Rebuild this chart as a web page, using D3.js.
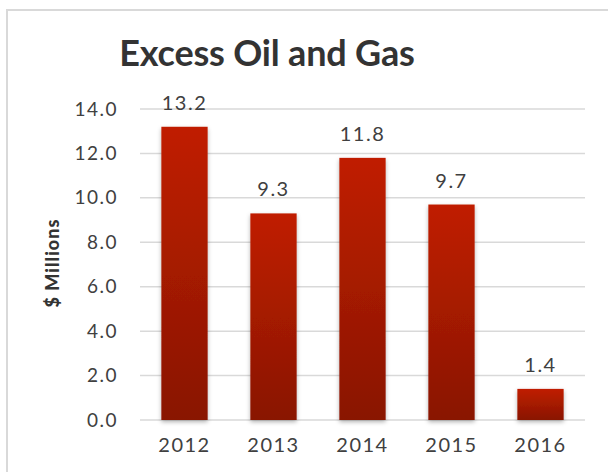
<!DOCTYPE html>
<html>
<head>
<meta charset="utf-8">
<script src="https://cdn.jsdelivr.net/npm/d3@7"></script>
<style>
  body { margin: 0; background: #fff; }
  text { font-family: "Lato", "DejaVu Sans", sans-serif; fill: #404040; }
</style>
</head>
<body>
<div id="chart"></div>
<script>
// chart data
const years = ['2012', '2013', '2014', '2015', '2016'];
const values = [13.2, 9.3, 11.8, 9.7, 1.4];
const yTicks = [0, 2, 4, 6, 8, 10, 12, 14];

const width = 608, height = 472;
const margin = {top: 109, right: 23, bottom: 52, left: 140};
const innerW = width - margin.left - margin.right;
const innerH = height - margin.top - margin.bottom;

const svg = d3.select('#chart').append('svg')
  .attr('width', width)
  .attr('height', height);

const defs = svg.append('defs');
const grad = defs.append('linearGradient')
  .attr('id', 'bar-gradient')
  .attr('x1', 0).attr('y1', 0).attr('x2', 0).attr('y2', 1);
grad.append('stop').attr('offset', '0%').attr('stop-color', '#c01f00');
grad.append('stop').attr('offset', '100%').attr('stop-color', '#891500');

const shadow = defs.append('filter').attr('id', 'shadow')
  .attr('x', '-20%').attr('y', '-10%').attr('width', '140%').attr('height', '130%');
shadow.append('feDropShadow')
  .attr('dx', 0).attr('dy', 2).attr('stdDeviation', 2)
  .attr('flood-color', '#000').attr('flood-opacity', 0.3);

// outer frame
svg.append('rect')
  .attr('x', 7).attr('y', 10)
  .attr('width', width + 10).attr('height', height + 10)
  .attr('fill', 'none')
  .attr('stroke', '#d9d9d9')
  .attr('stroke-width', 2);

// title
svg.append('text')
  .attr('x', 267).attr('y', 66)
  .attr('text-anchor', 'middle')
  .style('font-size', '36px')
  .style('font-weight', 'bold')
  .style('letter-spacing', '-0.2px')
  .style('fill', '#333')
  .text('Excess Oil and Gas');

const chart = svg.append('g')
  .attr('transform', `translate(${margin.left},${margin.top})`);

const x = d3.scaleBand()
  .domain(years)
  .range([0, innerW])
  .paddingInner(0.48)
  .paddingOuter(0.24);

const y = d3.scaleLinear()
  .domain([0, 14])
  .range([innerH, 0]);

// gridlines
chart.selectAll('.grid')
  .data(yTicks)
  .join('line')
  .attr('class', 'grid')
  .attr('x1', 0).attr('x2', innerW)
  .attr('y1', d => y(d)).attr('y2', d => y(d))
  .attr('stroke', '#d9d9d9')
  .attr('stroke-width', 1.5);

// y axis labels
const yAxis = chart.append('g')
  .call(d3.axisLeft(y).tickValues(yTicks).tickFormat(d3.format('.1f')).tickSize(0).tickPadding(22));
yAxis.select('.domain').remove();
yAxis.selectAll('text')
  .style('font-size', '19px')
  .style('letter-spacing', '1.5px')
  .attr('fill', null);

// x axis labels
const xAxis = chart.append('g')
  .attr('transform', `translate(0,${innerH})`)
  .call(d3.axisBottom(x).tickSize(0).tickPadding(18));
xAxis.select('.domain').remove();
xAxis.selectAll('text')
  .style('font-size', '20px')
  .style('letter-spacing', '1.5px')
  .attr('fill', null);

// bars
chart.selectAll('.bar')
  .data(values)
  .join('rect')
  .attr('class', 'bar')
  .attr('x', (d, i) => x(years[i]))
  .attr('y', d => y(d))
  .attr('width', x.bandwidth())
  .attr('height', d => innerH - y(d))
  .attr('fill', 'url(#bar-gradient)')
  .attr('filter', 'url(#shadow)');

// value labels
chart.selectAll('.value-label')
  .data(values)
  .join('text')
  .attr('class', 'value-label')
  .attr('x', (d, i) => x(years[i]) + x.bandwidth() / 2)
  .attr('y', d => y(d) - 17)
  .attr('text-anchor', 'middle')
  .style('font-size', '20px')
  .style('letter-spacing', '1.5px')
  .text(d => d.toFixed(1));

// y axis title
svg.append('text')
  .attr('transform', 'translate(59,263) rotate(-90)')
  .attr('text-anchor', 'middle')
  .style('font-size', '18px')
  .style('font-weight', '900')
  .style('letter-spacing', '1px')
  .style('fill', '#333')
  .text('$ Millions');
</script>
</body>
</html>
